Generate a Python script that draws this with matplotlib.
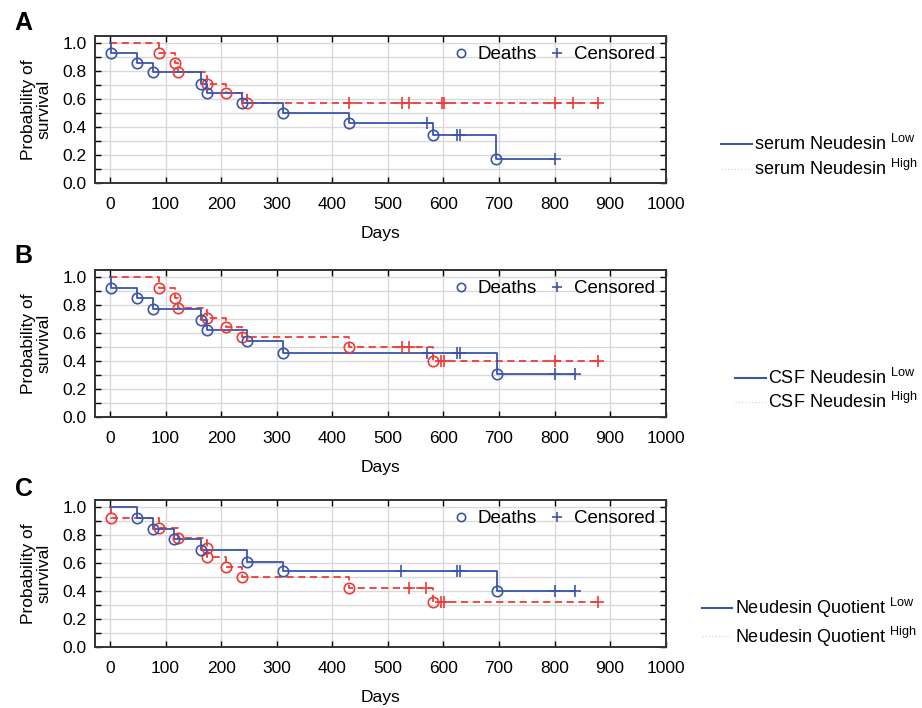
import numpy as np
import matplotlib
matplotlib.use('Agg')
import matplotlib.pyplot as plt
from matplotlib.lines import Line2D

plt.rcParams.update({
    'font.family': 'Liberation Sans',
    'mathtext.fontset': 'custom',
    'mathtext.rm': 'Liberation Sans',
    'mathtext.it': 'Liberation Sans',
    'font.size': 12,
})

BLUE = '#3C55AB'
RED = '#EE3B36'

# Panel A: serum Neudesin
A_low_death_t = [1, 48, 77, 164, 175, 238, 311, 431, 581, 695]
A_low_death_s = [0.93, 0.86, 0.79, 0.71, 0.64, 0.57, 0.50, 0.43, 0.34, 0.17]
A_low_cens_t = [570, 624, 629, 800]
A_high_death_t = [89, 117, 123, 174, 208, 246]
A_high_death_s = [0.93, 0.86, 0.79, 0.71, 0.64, 0.57]
A_high_cens_t = [430, 526, 538, 597, 601, 800, 834, 878]

# Panel B: CSF Neudesin
B_low_death_t = [1, 48, 77, 164, 175, 246, 311, 696]
B_low_death_s = [0.92, 0.85, 0.77, 0.69, 0.62, 0.54, 0.46, 0.31]
B_low_cens_t = [570, 625, 629, 800, 836]
B_high_death_t = [89, 117, 123, 174, 208, 238, 431, 581]
B_high_death_s = [0.92, 0.85, 0.78, 0.71, 0.64, 0.57, 0.50, 0.40]
B_high_cens_t = [526, 538, 595, 601, 800, 878]

# Panel C: Neudesin Quotient
C_low_death_t = [48, 77, 116, 164, 246, 311, 696]
C_low_death_s = [0.92, 0.84, 0.77, 0.69, 0.61, 0.54, 0.40]
C_low_cens_t = [524, 625, 629, 800, 836]
C_high_death_t = [1, 89, 123, 174, 175, 208, 238, 431, 581]
C_high_death_s = [0.92, 0.85, 0.78, 0.71, 0.64, 0.57, 0.50, 0.42, 0.32]
C_high_cens_t = [539, 569, 595, 601, 878]

PANELS = [
    ('A', 'serum Neudesin', A_low_death_t, A_low_death_s, A_low_cens_t,
     A_high_death_t, A_high_death_s, A_high_cens_t),
    ('B', 'CSF Neudesin', B_low_death_t, B_low_death_s, B_low_cens_t,
     B_high_death_t, B_high_death_s, B_high_cens_t),
    ('C', 'Neudesin Quotient', C_low_death_t, C_low_death_s, C_low_cens_t,
     C_high_death_t, C_high_death_s, C_high_cens_t),
]

AX_BOTTOMS = [0.7415, 0.411, 0.0862]
LEG_Y = [0.779, 0.449, 0.121]
LEG_X = [0.782, 0.797, 0.761]
LETTER_Y = [0.968, 0.638, 0.31]


def surv_at(death_t, death_s, t):
    idx = np.searchsorted(death_t, t, side='right')
    return 1.0 if idx == 0 else death_s[idx - 1]


def draw_curve(ax, death_t, death_s, cens_t, color, ls):
    end = max(max(death_t), max(cens_t))
    xs = [0] + list(death_t) + [end]
    ys = [1.0] + list(death_s) + [death_s[-1]]
    ax.step(xs, ys, where='post', color=color, ls=ls, lw=1.3,
            dashes=(4, 2.5) if ls == '--' else (None, None), zorder=3)
    ax.plot(death_t, death_s, 'o', ms=7.5, mfc='none', mec=color, mew=1.2, zorder=4)
    cy = [surv_at(death_t, death_s, c) for c in cens_t]
    ax.plot(cens_t, cy, '+', ms=8, mec=color, mew=1.2, zorder=4)


fig = plt.figure(figsize=(9.22, 7.08), dpi=100)

for i, (letter, name, lt, ls_, lc, ht, hs, hc) in enumerate(PANELS):
    ax = fig.add_axes([0.103, AX_BOTTOMS[i], 0.619, 0.2076])
    draw_curve(ax, ht, hs, hc, RED, '--')
    draw_curve(ax, lt, ls_, lc, BLUE, '-')

    ax.set_xlim(-27, 1000)
    ax.set_ylim(0, 1.05)
    ax.set_xticks(np.arange(0, 1001, 100))
    ax.set_yticks(np.arange(0, 1.01, 0.2))
    ax.set_yticks(np.arange(0.1, 1.0, 0.2), minor=True)
    ax.set_yticklabels([f'{v:.1f}' for v in np.arange(0, 1.01, 0.2)])
    ax.grid(True, which='both', color='#D9D9D9', lw=1.0, zorder=0)
    ax.set_axisbelow(True)
    ax.tick_params(which='both', direction='in', top=True, right=True,
                   length=4, width=1.0, labelsize=12.5, pad=6)
    ax.tick_params(axis='x', pad=10)
    for sp in ax.spines.values():
        sp.set_linewidth(1.4)
        sp.set_color('#333333')
    ax.set_xlabel('Days', fontsize=12.5, labelpad=10)
    ax.set_ylabel('Probability of\nsurvival', fontsize=12.5, labelpad=8, linespacing=1.0)

    handles = [
        Line2D([], [], ls='none', marker='o', ms=6, mfc='none', mec=BLUE, mew=1.2),
        Line2D([], [], ls='none', marker='+', ms=7, mec=BLUE, mew=1.2),
    ]
    ax.legend(handles, ['Deaths', 'Censored'], loc='upper right', ncol=2,
              frameon=False, fontsize=13.5, handlelength=1.0, handletextpad=0.4,
              columnspacing=0.6, borderaxespad=0.35, borderpad=0.2)

    fig.text(0.016, LETTER_Y[i], letter, fontsize=18, fontweight='bold',
             ha='left', va='center')

    ext = [
        Line2D([], [], color=BLUE, lw=1.5),
        Line2D([], [], color='#F7C9C9', lw=0.9, ls=':'),
    ]
    fig.legend(ext, [name + r' $^{\mathrm{Low}}$', name + r' $^{\mathrm{High}}$'],
               loc='center left', bbox_to_anchor=(LEG_X[i], LEG_Y[i]),
               frameon=False, fontsize=13, handlelength=1.7,
               handletextpad=0.15, labelspacing=0.25, borderaxespad=0.0,
               borderpad=0.0)

fig.savefig('out.png', dpi=100)
